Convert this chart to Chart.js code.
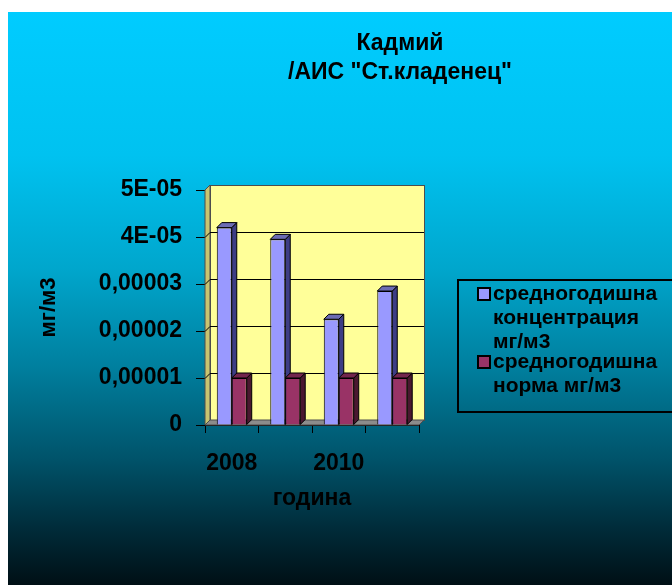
<!DOCTYPE html>
<html>
<head>
<meta charset="utf-8">
<script src="https://cdn.jsdelivr.net/npm/chart.js@4.4.1/dist/chart.umd.min.js"></script>
<style>
  html, body { margin: 0; padding: 0; background: #ffffff; }
  body { width: 672px; height: 585px; position: relative; overflow: hidden;
         font-family: "Liberation Sans", Arial, sans-serif; }
  #bg { position: absolute; left: 8px; top: 12px; right: 0; bottom: 0;
        background: linear-gradient(to bottom, #00ccff 0%, #00c2f0 25%, #00a6cc 45%, #007f9e 62%, #00536a 78%, #002c3a 90%, #000f15 100%); }
  #chart { position: absolute; left: 0; top: 0; }
  .title { position: absolute; left: 250px; width: 300px; text-align: center;
           font-weight: bold; font-size: 23px; line-height: 29px; color: #000; top: 28px; }
  #legend { position: absolute; left: 457px; top: 279px; width: 240px; height: 134px;
            border: 2px solid #000; box-sizing: border-box; }
  .item { position: absolute; left: 34px; font-weight: bold; font-size: 21px; line-height: 24px; color: #000; white-space: nowrap; }
  .swatch { position: absolute; left: 18px; width: 10px; height: 10px; border: 2px solid #000; box-sizing: content-box; }
</style>
</head>
<body>
<div id="bg"></div>
<canvas id="chart" width="672" height="585"></canvas>
<div class="title">Кадмий<br>/АИС "Ст.кладенец"</div>
<div id="legend"></div>
<script>
// Annual averages of cadmium, mg/m3
const years = ['2008', '2009', '2010', '2011'];
const concentration = [4.2e-5, 3.95e-5, 2.25e-5, 2.85e-5];
const norm = [1e-5, 1e-5, 1e-5, 1e-5];
const yTickValues = [0, 1e-5, 2e-5, 3e-5, 4e-5, 5e-5];
const yTickLabels = ['0', '0,00001', '0,00002', '0,00003', '4E-05', '5E-05'];
const xTickLabels = ['2008', '', '2010', ''];
const seriesNames = [
  ['средногодишна', 'концентрация', 'мг/м3'],
  ['средногодишна', 'норма мг/м3']
];

const FONT = '"Liberation Sans", Arial, sans-serif';
const DEPTH = 5;

const palette = [
  { front: '#9999ff', side: '#3d3d85', top: '#6b6bb3' },
  { front: '#993366', side: '#4a1830', top: '#73264d' }
];

// Back wall, side wall, floor, grid and the side/top faces of each bar
const box3d = {
  id: 'box3d',
  beforeDatasetsDraw(chart) {
    const { ctx, chartArea: a, scales: { y } } = chart;
    const d = DEPTH;
    ctx.save();
    ctx.lineWidth = 1;
    ctx.strokeStyle = '#4d4d4d';
    // side wall
    ctx.fillStyle = '#c8c470';
    ctx.beginPath();
    ctx.moveTo(a.left, a.top); ctx.lineTo(a.left + d, a.top - d);
    ctx.lineTo(a.left + d, a.bottom - d); ctx.lineTo(a.left, a.bottom);
    ctx.closePath(); ctx.fill(); ctx.stroke();
    // back wall
    ctx.fillStyle = '#ffff99';
    ctx.fillRect(a.left + d, a.top - d, a.right - a.left, a.bottom - a.top);
    ctx.strokeRect(a.left + d + 0.5, a.top - d + 0.5, a.right - a.left, a.bottom - a.top);
    // floor
    ctx.fillStyle = '#8c8c8c';
    ctx.beginPath();
    ctx.moveTo(a.left, a.bottom); ctx.lineTo(a.left + d, a.bottom - d);
    ctx.lineTo(a.right + d, a.bottom - d); ctx.lineTo(a.right, a.bottom);
    ctx.closePath(); ctx.fill(); ctx.stroke();
    // grid lines
    ctx.strokeStyle = '#000';
    yTickValues.forEach(v => {
      if (v === 0 || v === yTickValues[yTickValues.length - 1]) return;
      const py = Math.round(y.getPixelForValue(v)) + 0.5;
      ctx.beginPath();
      ctx.moveTo(a.left, py); ctx.lineTo(a.left + d, py - d);
      ctx.lineTo(a.right + d, py - d);
      ctx.stroke();
    });
    // bar side and top faces
    chart.data.datasets.forEach((ds, i) => {
      const meta = chart.getDatasetMeta(i);
      const c = palette[i];
      meta.data.forEach(bar => {
        const { x, y: top, base, width } = bar.getProps(['x', 'y', 'base', 'width'], true);
        const l = x - width / 2, r = x + width / 2;
        ctx.strokeStyle = '#000';
        ctx.fillStyle = c.side;
        ctx.beginPath();
        ctx.moveTo(r, top); ctx.lineTo(r + d, top - d);
        ctx.lineTo(r + d, base - d); ctx.lineTo(r, base);
        ctx.closePath(); ctx.fill(); ctx.stroke();
        ctx.fillStyle = c.top;
        ctx.beginPath();
        ctx.moveTo(l, top); ctx.lineTo(l + d, top - d);
        ctx.lineTo(r + d, top - d); ctx.lineTo(r, top);
        ctx.closePath(); ctx.fill(); ctx.stroke();
      });
    });
    ctx.restore();
  }
};

new Chart(document.getElementById('chart'), {
  type: 'bar',
  data: {
    labels: years,
    datasets: [
      { label: seriesNames[0].join(' '), data: concentration, backgroundColor: palette[0].front,
        borderColor: '#000', borderWidth: 1, categoryPercentage: 0.56, barPercentage: 1 },
      { label: seriesNames[1].join(' '), data: norm, backgroundColor: palette[1].front,
        borderColor: '#000', borderWidth: 1, categoryPercentage: 0.56, barPercentage: 1 }
    ]
  },
  options: {
    responsive: false,
    animation: false,
    devicePixelRatio: 1,
    layout: { padding: { left: 0, top: 190, right: 253, bottom: 70 } },
    plugins: { legend: { display: false }, title: { display: false }, tooltip: { enabled: false } },
    scales: {
      x: {
        grid: { display: true, offset: true, drawOnChartArea: false, drawTicks: true, tickLength: 8, color: '#000' },
        border: { display: true, color: '#000', width: 1 },
        ticks: { color: '#000', padding: 17, autoSkip: false, maxRotation: 0,
                 font: { family: FONT, size: 23, weight: 'bold' },
                 callback: (v, i) => xTickLabels[i] },
        title: { display: true, text: 'година', color: '#000', padding: { top: 0, bottom: 3 },
                 font: { family: FONT, size: 23, weight: 'bold' } },
        afterFit: s => { s.height = 90; }
      },
      y: {
        min: 0, max: 5e-5,
        afterBuildTicks: s => { s.ticks = yTickValues.map(v => ({ value: v })); },
        grid: { display: true, drawOnChartArea: false, drawTicks: true, tickLength: 9, color: '#000' },
        border: { display: true, color: '#000', width: 1 },
        ticks: { color: '#000', padding: 14,
                 font: { family: FONT, size: 23, weight: 'bold' },
                 callback: (v, i) => yTickLabels[i] },
        title: { display: true, text: 'мг/м3', color: '#000', padding: { top: 36, bottom: 0 },
                 font: { family: FONT, size: 22, weight: 'bold' } },
        afterFit: s => { s.width = 205; }
      }
    }
  },
  plugins: [box3d]
});

// Legend: wrapped series names with coloured markers
const legend = document.getElementById('legend');
const itemTops = [0, 68];
seriesNames.forEach((lines, i) => {
  const sw = document.createElement('div');
  sw.className = 'swatch';
  sw.style.top = (itemTops[i] + 6) + 'px';
  sw.style.background = palette[i].front;
  legend.appendChild(sw);
  const t = document.createElement('div');
  t.className = 'item';
  t.style.top = itemTops[i] + 'px';
  t.innerHTML = lines.join('<br>');
  legend.appendChild(t);
});
</script>
</body>
</html>
